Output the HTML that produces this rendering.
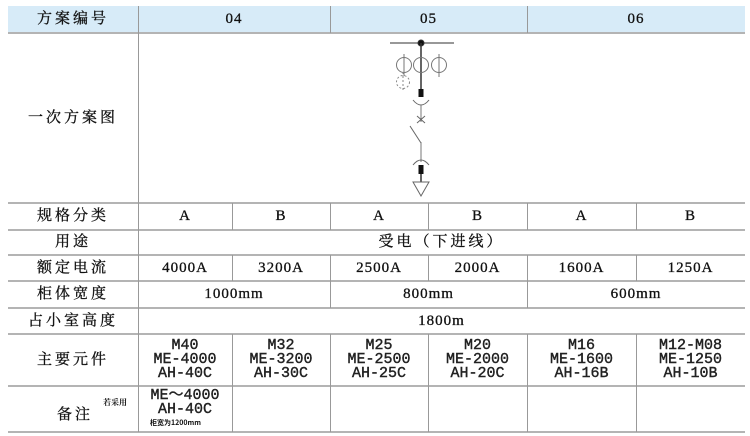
<!DOCTYPE html>
<html><head><meta charset="utf-8"><style>
body{margin:0;background:#fff;width:750px;height:436px;position:relative;overflow:hidden;font-family:"Liberation Serif","Noto Serif CJK SC",serif;color:#111}
.c{position:absolute;display:flex;align-items:center;justify-content:center;text-align:center;font-size:15px;line-height:15px;letter-spacing:1px;-webkit-text-stroke:0.3px #111}
.h{position:absolute;left:8px;width:737px;height:2px;background:#b4b4b4}
.v{position:absolute;width:1px;background:#999}
.m{font-family:"Liberation Mono","Noto Sans CJK SC",monospace;font-size:15px;line-height:14px;letter-spacing:0;-webkit-text-stroke:0.4px #222;color:#222}
.k{letter-spacing:3px}
</style></head><body>
<div style="position:absolute;left:8px;top:6px;width:737px;height:27px;background:#d7ebf8"></div>
<div class="h" style="top:32px"></div>
<div class="h" style="top:202px"></div>
<div class="h" style="top:229px"></div>
<div class="h" style="top:254px"></div>
<div class="h" style="top:280px"></div>
<div class="h" style="top:307px"></div>
<div class="h" style="top:333px"></div>
<div class="h" style="top:385px"></div>
<div class="h" style="top:431px"></div>
<div class="v" style="left:138px;top:6px;height:426px"></div>
<div class="v" style="left:330px;top:6px;height:27px"></div>
<div class="v" style="left:527px;top:6px;height:27px"></div>
<div class="v" style="left:232px;top:203px;height:27px"></div>
<div class="v" style="left:330px;top:203px;height:27px"></div>
<div class="v" style="left:428px;top:203px;height:27px"></div>
<div class="v" style="left:527px;top:203px;height:27px"></div>
<div class="v" style="left:636px;top:203px;height:27px"></div>
<div class="v" style="left:232px;top:255px;height:26px"></div>
<div class="v" style="left:330px;top:255px;height:26px"></div>
<div class="v" style="left:428px;top:255px;height:26px"></div>
<div class="v" style="left:527px;top:255px;height:26px"></div>
<div class="v" style="left:636px;top:255px;height:26px"></div>
<div class="v" style="left:330px;top:281px;height:27px"></div>
<div class="v" style="left:527px;top:281px;height:27px"></div>
<div class="v" style="left:232px;top:334px;height:98px"></div>
<div class="v" style="left:330px;top:334px;height:98px"></div>
<div class="v" style="left:428px;top:334px;height:98px"></div>
<div class="v" style="left:527px;top:334px;height:98px"></div>
<div class="v" style="left:636px;top:334px;height:98px"></div>

<div class="c k" style="left:8px;top:6px;width:130px;height:27px">方案编号</div>
<div class="c" style="left:138px;top:6px;width:192px;height:27px">04</div>
<div class="c" style="left:330px;top:6px;width:197px;height:27px">05</div>
<div class="c" style="left:527px;top:6px;width:218px;height:27px">06</div>
<div class="c k" style="left:8px;top:33px;width:130px;height:170px">一次方案图</div>
<div class="c k" style="left:8px;top:203px;width:130px;height:27px">规格分类</div>
<div class="c" style="left:138px;top:203px;width:94px;height:27px">A</div>
<div class="c" style="left:232px;top:203px;width:98px;height:27px">B</div>
<div class="c" style="left:330px;top:203px;width:98px;height:27px">A</div>
<div class="c" style="left:428px;top:203px;width:99px;height:27px">B</div>
<div class="c" style="left:527px;top:203px;width:109px;height:27px">A</div>
<div class="c" style="left:636px;top:203px;width:109px;height:27px">B</div>
<div class="c k" style="left:8px;top:230px;width:130px;height:25px">用途</div>
<div class="c k" style="left:138px;top:230px;width:607px;height:25px">受电（下进线）</div>
<div class="c k" style="left:8px;top:255px;width:130px;height:26px">额定电流</div>
<div class="c" style="left:138px;top:255px;width:94px;height:26px">4000A</div>
<div class="c" style="left:232px;top:255px;width:98px;height:26px">3200A</div>
<div class="c" style="left:330px;top:255px;width:98px;height:26px">2500A</div>
<div class="c" style="left:428px;top:255px;width:99px;height:26px">2000A</div>
<div class="c" style="left:527px;top:255px;width:109px;height:26px">1600A</div>
<div class="c" style="left:636px;top:255px;width:109px;height:26px">1250A</div>
<div class="c k" style="left:8px;top:281px;width:130px;height:27px">柜体宽度</div>
<div class="c" style="left:138px;top:281px;width:192px;height:27px">1000mm</div>
<div class="c" style="left:330px;top:281px;width:197px;height:27px">800mm</div>
<div class="c" style="left:527px;top:281px;width:218px;height:27px">600mm</div>
<div class="c k" style="left:8px;top:308px;width:130px;height:26px">占小室高度</div>
<div class="c" style="left:138px;top:308px;width:607px;height:26px">1800m</div>
<div class="c k" style="left:8px;top:334px;width:130px;height:52px">主要元件</div>
<div class="c m" style="left:138px;top:334px;width:94px;height:52px">M40<br>ME-4000<br>AH-40C</div>
<div class="c m" style="left:232px;top:334px;width:98px;height:52px">M32<br>ME-3200<br>AH-30C</div>
<div class="c m" style="left:330px;top:334px;width:98px;height:52px">M25<br>ME-2500<br>AH-25C</div>
<div class="c m" style="left:428px;top:334px;width:99px;height:52px">M20<br>ME-2000<br>AH-20C</div>
<div class="c m" style="left:527px;top:334px;width:109px;height:52px">M16<br>ME-1600<br>AH-16B</div>
<div class="c m" style="left:636px;top:334px;width:109px;height:52px">M12-M08<br>ME-1250<br>AH-10B</div>
<div class="c k" style="left:50px;top:400px;width:50px;height:30px">备注</div>
<div style="position:absolute;left:103px;top:397px;font-size:8px;font-weight:bold">若采用</div>
<div class="c m" style="left:138px;top:387px;width:94px;height:32px">ME～4000<br>AH-40C</div>
<div style="position:absolute;left:150px;top:418px;font-size:7px;font-weight:bold;font-family:'Noto Sans CJK SC',sans-serif">柜宽为1200mm</div>

<svg style="position:absolute;left:0;top:0" width="750" height="436">
<g stroke="#333" fill="none" stroke-width="1">
<line x1="390" y1="43" x2="454" y2="43" stroke="#777" stroke-width="1.5"/>
<circle cx="421" cy="43" r="3" fill="#111"/>
<line x1="421" y1="43" x2="421" y2="90" stroke-width="1.5"/>
<circle cx="404" cy="65" r="7.5" stroke="#777"/>
<circle cx="421" cy="65" r="7.5" stroke="#777"/>
<circle cx="439" cy="65" r="7.5" stroke="#777"/>
<line x1="404" y1="54" x2="404" y2="76" stroke="#777"/>
<line x1="439" y1="54" x2="439" y2="77" stroke="#777"/>
<circle cx="403" cy="82" r="6.5" stroke="#888" stroke-dasharray="2 2"/>
<line x1="403" y1="72" x2="403" y2="92" stroke="#888" stroke-dasharray="2 2"/>
<rect x="418.5" y="89" width="5" height="8" fill="#111" stroke="none"/>
<path d="M413 100 Q421 110 429 100" stroke="#666"/>
<line x1="421" y1="105" x2="421" y2="122" stroke="#777"/>
<line x1="417" y1="116" x2="425" y2="123" stroke="#666"/>
<line x1="425" y1="116" x2="417" y2="123" stroke="#666"/>
<line x1="410" y1="126" x2="421" y2="143" stroke="#666"/>
<line x1="421" y1="142" x2="421" y2="162" stroke="#777"/>
<path d="M413 165 Q421 155 429 165" stroke="#666"/>
<rect x="418.5" y="165" width="5" height="9" fill="#111" stroke="none"/>
<line x1="421" y1="174" x2="421" y2="182" stroke-width="1.5"/>
<path d="M413 182 L429 182 L421 196 Z" stroke="#666"/>
</g></svg>
</body></html>
